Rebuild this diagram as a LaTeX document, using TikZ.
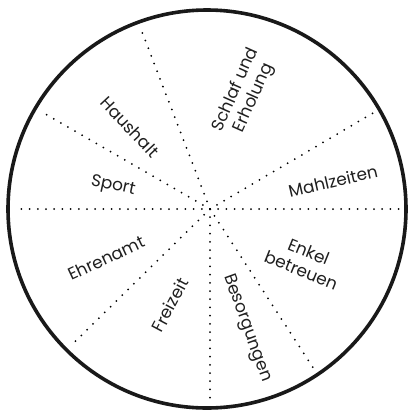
\documentclass[tikz,border=0pt]{standalone}
\usepackage{fontspec}
\setmainfont{Poppins}
\usetikzlibrary{calc}
\begin{document}
\begin{tikzpicture}[x=1bp,y=-1bp,
  spoke/.style={line width=2bp,line cap=round,dash pattern=on 0bp off 8.2bp},
  lbl/.style={font=\fontsize{17}{20}\selectfont,align=center,inner sep=0pt,text=black!88}]
\useasboundingbox (0,0) rectangle (408,411);
\draw[line width=3.6bp,black!90] (207,209) circle (199);
\coordinate (c) at (210,209);
\foreach \a/\n in {0/a,30.5/b,111/d,150/e,180/f,224.5/g,270/h,303/i}{
  \coordinate (\n) at ($(c)+(-\a:194)$);
  \draw[spoke] (c) -- (\n);
}
\node[lbl,rotate=66] (schlaf) at (245,94) {Schlaf und\\Erholung};
\node[lbl,rotate=-47] (haus) at (130,127) {Haushalt};
\node[lbl,rotate=-12] (sport) at (113,186) {Sport};
\node[lbl,rotate=13] (mahl) at (333,181) {Mahlzeiten};
\node[lbl,rotate=-22] (enkel) at (305,261) {Enkel\\betreuen};
\node[lbl,rotate=25] (ehren) at (106,258) {Ehrenamt};
\node[lbl,rotate=62] (frei) at (170,305) {Freizeit};
\node[lbl,rotate=-70] (beso) at (247,328) {Besorgungen};
\end{tikzpicture}
\end{document}
